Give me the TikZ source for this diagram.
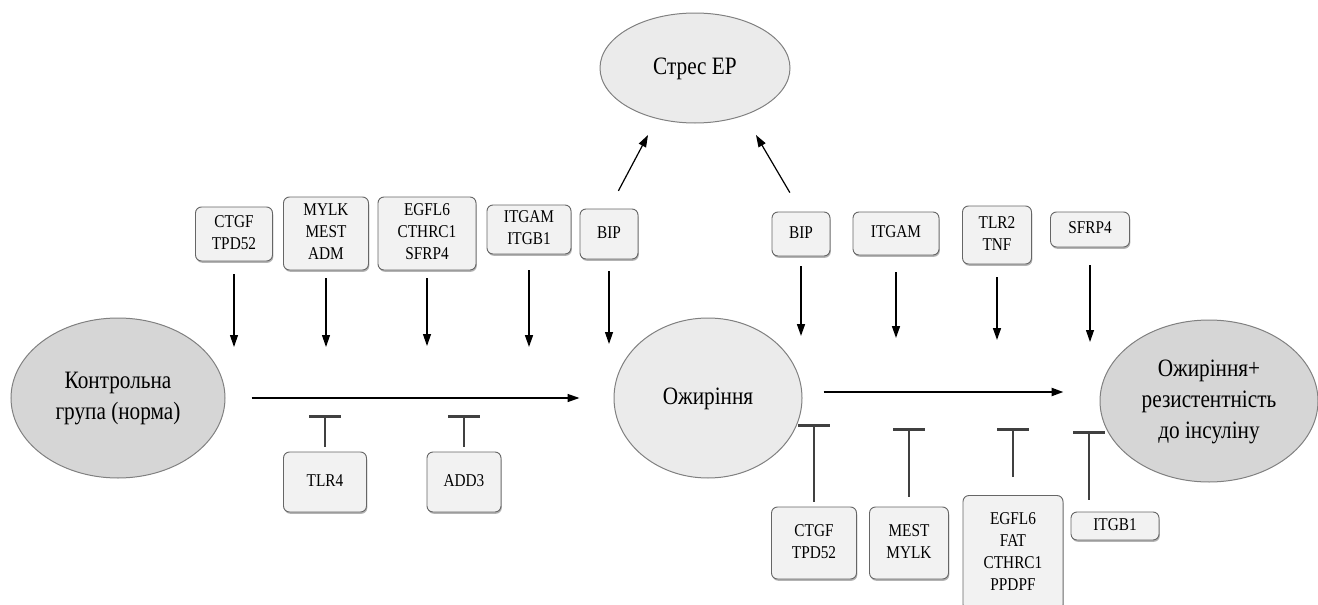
\documentclass[tikz,border=0pt]{standalone}
\usepackage{fontspec}
\setmainfont{Liberation Serif}
\usetikzlibrary{arrows.meta,shapes.geometric,shadows}
\newcommand{\nar}[1]{\scalebox{0.85}[1]{\begin{tabular}{@{}c@{}}#1\end{tabular}}}

\begin{document}
\begin{tikzpicture}[x=1pt, y=-1pt,
    gene/.style={draw=black!60, fill=black!5, line width=0.9pt, rounded corners=6pt,
        inner sep=0pt, font=\fontsize{18}{22}\selectfont,
        drop shadow={shadow xshift=0.8pt, shadow yshift=-1.8pt, fill=black!50, opacity=0.6}},
    state/.style={draw=black!50, line width=1pt, ellipse, inner sep=0pt,
        font=\fontsize{25}{31}\selectfont},
    up/.style={-{Triangle[length=12pt,width=8pt]}, line width=1.2pt},
    block/.style={-{Bar[width=32pt,line width=3pt]}, line width=1.3pt, draw=black!75},
]
    \useasboundingbox (0,0) rectangle (1318,605);

    % states
    \node (ctrl) [state, fill=black!16, minimum width=214pt, minimum height=160pt] at (118, 398) {\nar{Контрольна\\група (норма)}};
    \node (obes) [state, fill=black!8, minimum width=188pt, minimum height=160pt] at (708, 398) {\nar{Ожиріння}};
    \node (insr) [state, fill=black!16, minimum width=218pt, minimum height=162pt] at (1209, 401) {\nar{Ожиріння+\\резистентність\\до інсуліну}};
    \node (stres) [state, fill=black!8, minimum width=190pt, minimum height=110pt] at (695, 68) {\nar{Стрес ЕР}};

    % genes, control -> obesity
    \node (upA) [gene, minimum width=77pt, minimum height=54pt] at (234, 234) {\nar{CTGF\\TPD52}};
    \node (upB) [gene, minimum width=85pt, minimum height=73pt] at (326, 233.5) {\nar{MYLK\\MEST\\ADM}};
    \node (upC) [gene, minimum width=98pt, minimum height=73pt] at (427, 233.5) {\nar{EGFL6\\CTHRC1\\SFRP4}};
    \node (upD) [gene, minimum width=84pt, minimum height=49pt] at (529, 229.5) {\nar{ITGAM\\ITGB1}};
    \node (upE) [gene, minimum width=58pt, minimum height=50pt] at (609, 234) {\nar{BIP}};
    \node (dnA) [gene, minimum width=83pt, minimum height=60pt] at (325, 482) {\nar{TLR4}};
    \node (dnB) [gene, minimum width=74pt, minimum height=60pt] at (464, 482) {\nar{ADD3}};

    % genes, obesity -> insulin resistance
    \node (upF) [gene, minimum width=58pt, minimum height=44pt] at (801, 234) {\nar{BIP}};
    \node (upG) [gene, minimum width=86pt, minimum height=43pt] at (896, 233.5) {\nar{ITGAM}};
    \node (upH) [gene, minimum width=69pt, minimum height=58pt] at (997, 235) {\nar{TLR2\\TNF}};
    \node (upI) [gene, minimum width=79pt, minimum height=35pt] at (1090, 229.5) {\nar{SFRP4}};
    \node (dnC) [gene, minimum width=85pt, minimum height=72pt] at (814, 543) {\nar{CTGF\\TPD52}};
    \node (dnD) [gene, minimum width=79pt, minimum height=72pt] at (909, 543) {\nar{MEST\\MYLK}};
    \node (dnE) [gene, minimum width=100pt, minimum height=115pt] at (1013, 553) {\nar{EGFL6\\FAT\\CTHRC1\\PPDPF}};
    \node (dnF) [gene, minimum width=88pt, minimum height=28pt] at (1115, 526) {\nar{ITGB1}};

    % ends of the connectors
    \coordinate (eA) at (234, 347);
    \coordinate (eB) at (326, 347);
    \coordinate (eC) at (427, 346);
    \coordinate (eD) at (529, 347);
    \coordinate (eE) at (609, 344);
    \coordinate (eF) at (801, 336);
    \coordinate (eG) at (896, 338);
    \coordinate (eH) at (997, 340);
    \coordinate (eI) at (1090, 342);
    \coordinate (bA) at (325, 415);
    \coordinate (bB) at (464, 415);
    \coordinate (bC) at (814, 424);
    \coordinate (bD) at (909, 428);
    \coordinate (bE) at (1013, 428);
    \coordinate (bF) at (1089, 431);
    \coordinate (sL) at (648, 135);
    \coordinate (sR) at (756, 135);

    % main path
    \draw[up, line width=1.4pt, shorten <=26pt, shorten >=34pt] (ctrl.east) -- (ctrl.east -| obes.west);
    \draw[up, line width=2.2pt, shorten <=21pt, shorten >=36pt] ([yshift=6pt]obes.east) -- ([yshift=6pt]obes.east -| insr.west);

    % activation
    \draw[up, shorten <=13pt] (upA) -- (eA);
    \draw[up, shorten <=8pt] (upB) -- (eB);
    \draw[up, shorten <=8pt] (upC) -- (eC);
    \draw[up, line width=1.6pt, shorten <=16pt] (upD) -- (eD);
    \draw[up, shorten <=12pt] (upE) -- (eE);
    \draw[up, line width=1.6pt, shorten <=10pt] (upF) -- (eF);
    \draw[up, line width=1.6pt, shorten <=17pt] (upG) -- (eG);
    \draw[up, line width=1.6pt, shorten <=13pt] (upH) -- (eH);
    \draw[up, shorten <=18pt] (upI) -- (eI);

    % ER stress
    \draw[up, shorten <=20pt] (upE.north) -- (sL);
    \draw[up, shorten <=22pt] (upF.north) -- (sR);

    % inhibition
    \draw[block, shorten <=5pt] (dnA) -- (bA);
    \draw[block, shorten <=5pt] (dnB) -- (bB);
    \draw[block, shorten <=5pt] (dnC) -- (bC);
    \draw[block, shorten <=10pt] (dnD) -- (bD);
    \draw[block, shorten <=18pt] (dnE) -- (bE);
    \draw[block, shorten <=12pt] ([xshift=-26pt]dnF.north) -- (bF);
\end{tikzpicture}
\end{document}
